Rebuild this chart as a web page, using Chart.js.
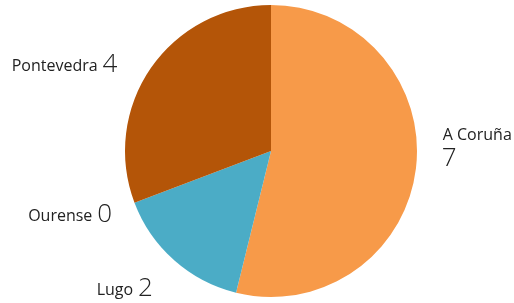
<!DOCTYPE html>
<html>
<head>
<meta charset="utf-8">
<script src="https://cdn.jsdelivr.net/npm/chart.js@4"></script>
<style>
  html, body { margin: 0; padding: 0; background: #fff; }
  #wrap { width: 514px; height: 303px; }
</style>
</head>
<body>
<div id="wrap"><canvas id="chart" width="514" height="303"></canvas></div>
<script>
// provincias e número de casos
const provincias = ['A Coruña', 'Lugo', 'Ourense', 'Pontevedra'];
const valores = [7, 2, 0, 4];
const cores = ['#F79A49', '#4BACC6', '#9BBB59', '#B45508'];

// desvíos das etiquetas (px) para axustar ao orixinal
const nudge = [[0, 0], [-4, 8], [2, 2], [-12, 11]];

// Plugin para debuxar as etiquetas fóra do círculo
const labelPlugin = {
  id: 'outLabels',
  afterDatasetsDraw(chart) {
    const ctx = chart.ctx;
    const meta = chart.getDatasetMeta(0);
    meta.data.forEach((arc, i) => {
      const mid = (arc.startAngle + arc.endAngle) / 2;
      const r = arc.outerRadius + 26;
      const x = arc.x + Math.cos(mid) * r + nudge[i][0];
      const y = arc.y + Math.sin(mid) * r + nudge[i][1];
      const name = provincias[i];
      const val = String(valores[i]);
      ctx.save();
      ctx.fillStyle = '#222';
      ctx.textBaseline = 'alphabetic';
      if (Math.cos(mid) > 0.5) {
        // lado dereito: nome enriba, valor debaixo
        ctx.textAlign = 'left';
        ctx.font = '16px "Open Sans"';
        ctx.fillText(name, x + 1, y - 32);
        ctx.font = '300 26px "Open Sans"';
        ctx.fillText(val, x, y - 6);
      } else {
        ctx.textAlign = 'right';
        ctx.font = '300 26px "Open Sans"';
        const vw = ctx.measureText(val).width;
        ctx.fillText(val, x, y + 8);
        ctx.font = '16px "Open Sans"';
        ctx.fillText(name, x - vw - 5, y + 7);
      }
      ctx.restore();
    });
  }
};

new Chart(document.getElementById('chart'), {
  type: 'pie',
  data: {
    labels: provincias,
    datasets: [{
      data: valores,
      backgroundColor: cores,
      borderWidth: 0
    }]
  },
  options: {
    responsive: false,
    animation: false,
    layout: { padding: { left: 28, right: 0, top: 5, bottom: 6 } },
    plugins: {
      legend: { display: false },
      tooltip: { enabled: false }
    }
  },
  plugins: [labelPlugin]
});
</script>
</body>
</html>
